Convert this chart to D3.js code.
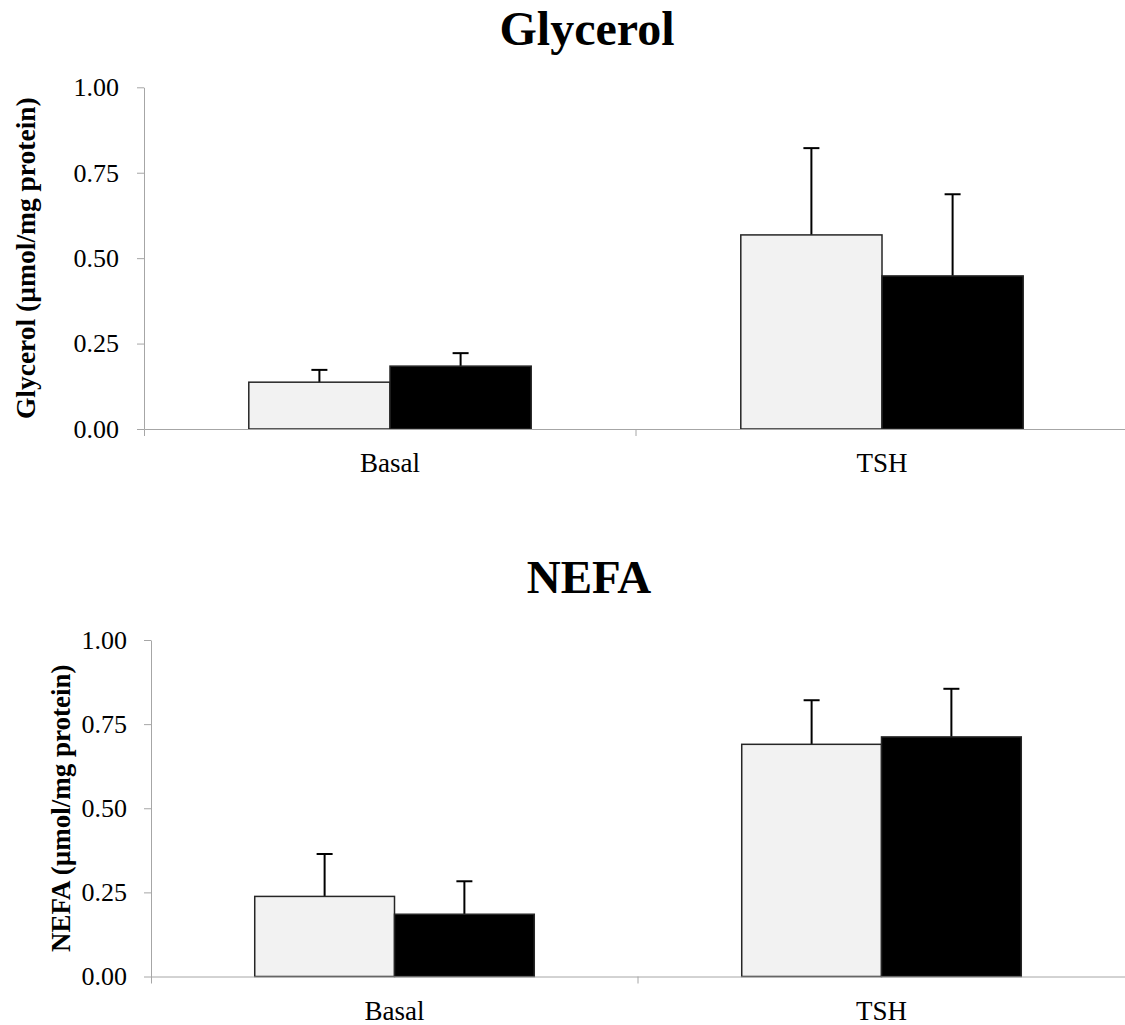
<!DOCTYPE html>
<html>
<head>
<meta charset="utf-8">
<script src="https://cdn.jsdelivr.net/npm/d3@7"></script>
<style>
  html, body { margin: 0; padding: 0; background: #fff; }
  svg { display: block; }
  text { font-family: "Liberation Serif", "Times New Roman", Times, serif; fill: #000; }
</style>
</head>
<body>
<svg id="fig" width="1125" height="1025"></svg>
<script>
// Stimulation conditions on the x axis
const categories = ["Basal", "TSH"];
const yTicks = [0, 0.25, 0.5, 0.75, 1.0];

// Glycerol release (µmol/mg protein): mean and upper SEM per group
const glycerolLight = [0.137, 0.568];
const glycerolLightErr = [0.036, 0.254];
const glycerolDark = [0.184, 0.448];
const glycerolDarkErr = [0.038, 0.239];

// NEFA release (µmol/mg protein): mean and upper SEM per group
const nefaLight = [0.238, 0.690];
const nefaLightErr = [0.126, 0.131];
const nefaDark = [0.185, 0.712];
const nefaDarkErr = [0.098, 0.143];

const svg = d3.select("#fig");
const AXIS = "#a6a6a6";
const SERIF = "'Liberation Serif', 'Times New Roman', serif";

function panel(cfg) {
  const g = svg.append("g");

  const x = d3.scaleBand().domain(categories).range([cfg.left, cfg.right]).padding(0);
  const y = d3.scaleLinear().domain([0, 1]).range([cfg.bottom, cfg.top]);

  // two bars per condition, centred in each band
  const groupW = x.bandwidth() * 0.574;
  const sub = d3.scaleBand().domain(["light", "dark"])
    .range([(x.bandwidth() - groupW) / 2, (x.bandwidth() + groupW) / 2]);

  const rows = [];
  categories.forEach((c, i) => {
    rows.push({ cat: c, key: "light", v: cfg.light[i], e: cfg.lightErr[i] });
    rows.push({ cat: c, key: "dark", v: cfg.dark[i], e: cfg.darkErr[i] });
  });

  // error bars (upper only), drawn beneath the bars
  const eb = g.append("g").attr("stroke", "#000").attr("stroke-width", 2);
  rows.forEach(d => {
    const cx = x(d.cat) + sub(d.key) + sub.bandwidth() / 2;
    eb.append("line").attr("x1", cx).attr("x2", cx)
      .attr("y1", y(d.v)).attr("y2", y(d.v + d.e));
    eb.append("line").attr("x1", cx - 8).attr("x2", cx + 8)
      .attr("y1", y(d.v + d.e)).attr("y2", y(d.v + d.e));
  });

  g.append("g").selectAll("rect").data(rows).join("rect")
    .attr("x", d => x(d.cat) + sub(d.key))
    .attr("y", d => y(d.v))
    .attr("width", sub.bandwidth())
    .attr("height", d => y(0) - y(d.v))
    .attr("fill", d => d.key === "light" ? "#f2f2f2" : "#000")
    .attr("stroke", "#262626")
    .attr("stroke-width", 1.5);

  // y axis
  const ya = g.append("g").attr("transform", `translate(${cfg.left},0)`)
    .call(d3.axisLeft(y).tickValues(yTicks).tickFormat(d3.format(".2f"))
      .tickSize(7).tickSizeOuter(0).tickPadding(cfg.tickPad));
  ya.selectAll("path, line").attr("stroke", AXIS);
  ya.selectAll("text").style("font-size", "26px").attr("fill", "#000")
    .style("font-family", SERIF);

  // x axis: outer ticks at the ends, a divider tick between the conditions
  const xa = g.append("g").attr("transform", `translate(0,${cfg.bottom})`)
    .call(d3.axisBottom(x).tickSizeInner(0).tickSizeOuter(7).tickPadding(24));
  xa.select(".domain").attr("stroke", AXIS);
  xa.selectAll("text").style("font-size", "27px").attr("fill", "#000")
    .style("font-family", SERIF);
  xa.append("g").selectAll("line").data(categories.slice(1)).join("line")
    .attr("x1", d => x(d)).attr("x2", d => x(d))
    .attr("y1", 0).attr("y2", 7).attr("stroke", AXIS);

  // panel title
  g.append("text").attr("x", cfg.titleX).attr("y", cfg.titleY)
    .attr("text-anchor", "middle").style("font-size", cfg.titleSize + "px").style("font-weight", "bold")
    .text(cfg.title);

  // y-axis title
  g.append("text")
    .attr("transform", `translate(${cfg.yTitleX},${(cfg.top + cfg.bottom) / 2}) rotate(-90)`)
    .attr("text-anchor", "middle").attr("dy", "0.35em")
    .style("font-size", cfg.yTitleSize + "px").style("font-weight", "bold")
    .text(cfg.yTitle);
}

panel({
  title: "Glycerol", titleX: 587, titleY: 45, titleSize: 48,
  yTitle: "Glycerol (µmol/mg protein)", yTitleX: 25, yTitleSize: 27.5,
  left: 144, right: 1128, top: 87.3, bottom: 429, tickPad: 18,
  light: glycerolLight, lightErr: glycerolLightErr,
  dark: glycerolDark, darkErr: glycerolDarkErr
});

panel({
  title: "NEFA", titleX: 589, titleY: 593, titleSize: 47,
  yTitle: "NEFA (µmol/mg protein)", yTitleX: 61, yTitleSize: 27,
  left: 151, right: 1125, top: 640, bottom: 976.5, tickPad: 17,
  light: nefaLight, lightErr: nefaLightErr,
  dark: nefaDark, darkErr: nefaDarkErr
});
</script>
</body>
</html>
